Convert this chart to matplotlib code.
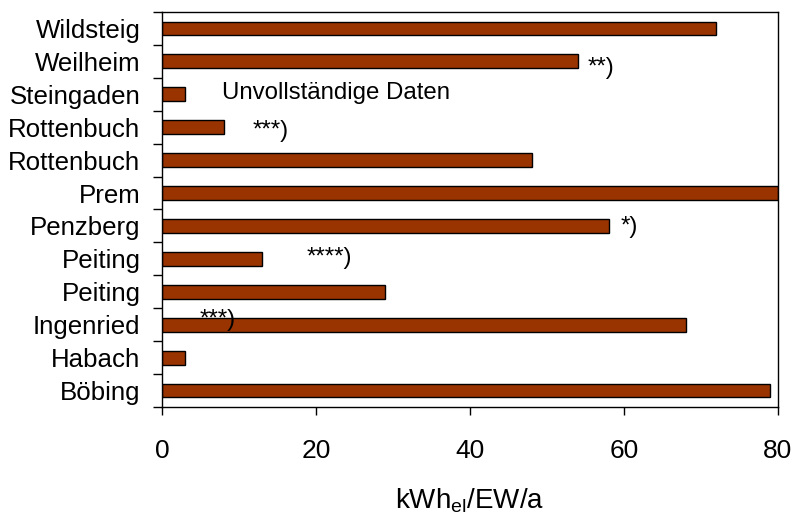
import numpy as np
import matplotlib
matplotlib.use("Agg")
import matplotlib.pyplot as plt

plt.rcParams['font.family'] = ['Liberation Sans', 'DejaVu Sans']

orte = ["Böbing", "Habach", "Ingenried", "Peiting", "Peiting", "Penzberg",
        "Prem", "Rottenbuch", "Rottenbuch", "Steingaden", "Weilheim", "Wildsteig"]
werte = [79, 3, 68, 29, 13, 58, 80, 48, 8, 3, 54, 72]

# Anmerkungen: (Text, x, Zeile, y-Versatz)
notizen = [("**)", 55.3, 10, -0.2),
           ("Unvollständige Daten", 7.8, 9, 0.05),
           ("***)", 11.8, 8, -0.12),
           ("*)", 59.5, 5, -0.03),
           ("****)", 18.8, 4, 0.03),
           ("***)", 4.9, 2, 0.15)]

fig = plt.figure(figsize=(7.93, 5.14), dpi=100)
ax = fig.add_axes([0.2043, 0.2082, 0.7767, 0.7685])

y = np.arange(len(orte))
ax.barh(y, werte, height=0.42, color="#993300", edgecolor="black", linewidth=1)

for txt, xx, row, dy in notizen:
    ax.text(xx, row + dy, txt, fontsize=17.3, va="center", ha="left")

ax.set_xlim(0, 80)
ax.set_ylim(-0.5, len(orte) - 0.5)
ax.set_xticks([0, 20, 40, 60, 80])
ax.tick_params(axis="x", direction="out", length=5.5, width=1, pad=17.5, labelsize=19)

ax.set_yticks(y)
ax.set_yticklabels(orte)
ax.set_yticks(np.arange(len(orte) + 1) - 0.5, minor=True)
ax.tick_params(axis="y", which="major", length=0, pad=15.5, labelsize=18.6)
ax.tick_params(axis="y", which="minor", direction="out", length=6.5, width=1)

for s in ax.spines.values():
    s.set_linewidth(1)

ax.set_xlabel("kWh$_{\\mathregular{el}}$/EW/a", fontsize=20, labelpad=17)

fig.savefig("out.png", dpi=100)
